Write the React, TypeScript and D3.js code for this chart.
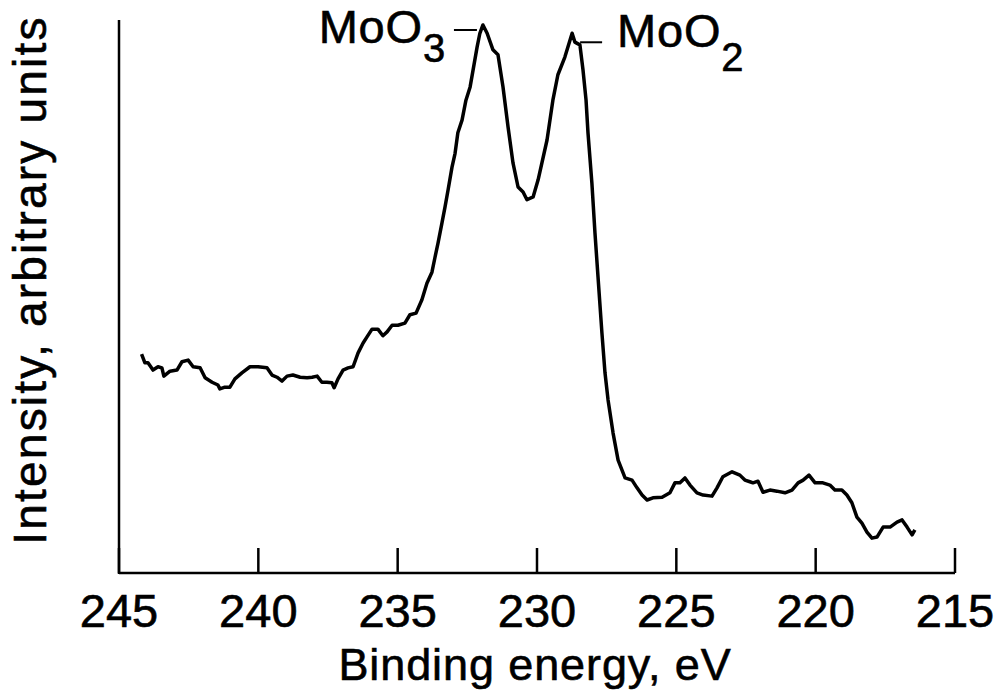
import React from 'react';
import * as d3 from 'd3';

// XPS Mo 3d spectrum (binding energy in eV, intensity in arbitrary units)
const energies = [
  244.19, 244.07, 243.96, 243.78, 243.6, 243.46, 243.39, 243.17, 242.92, 242.74,
  242.52, 242.34, 242.09, 241.91, 241.66, 241.45, 241.38, 241.2, 241.02, 240.84,
  240.59, 240.3, 240.01, 239.69, 239.51, 239.33, 239.15, 238.97, 238.76, 238.5,
  238.25, 238.07, 237.89, 237.72, 237.54, 237.36, 237.28, 237.14, 236.96, 236.78,
  236.6, 236.42, 236.24, 236.1, 235.92, 235.71, 235.53, 235.38, 235.2, 234.99,
  234.74, 234.56, 234.34, 234.13, 233.95, 233.77, 233.66, 233.55, 233.41, 233.3,
  233.19, 233.05, 232.94, 232.84, 232.69, 232.55, 232.4, 232.15, 232.05, 231.94,
  231.79, 231.58, 231.4, 231.22, 231.04, 230.86, 230.68, 230.5, 230.36, 230.14,
  229.96, 229.64, 229.43, 229.25, 229.0, 228.74, 228.64, 228.46, 228.35, 228.24,
  228.17, 228.03, 227.92, 227.81, 227.67, 227.56, 227.45, 227.27, 227.09, 226.84,
  226.59, 226.41, 226.23, 226.05, 225.84, 225.51, 225.23, 225.05, 224.87, 224.69,
  224.51, 224.26, 224.04, 223.72, 223.54, 223.33, 223.0, 222.72, 222.54, 222.36,
  222.25, 222.07, 221.89, 221.64, 221.39, 221.1, 220.85, 220.63, 220.45, 220.24,
  220.02, 219.74, 219.49, 219.31, 219.06, 218.88, 218.7, 218.52, 218.34, 218.16,
  217.98, 217.8, 217.58, 217.33, 217.08, 216.9, 216.72, 216.54, 216.44,
];

const intensities = [
  39.6, 38.0, 38.0, 36.7, 37.3, 37.1, 35.6, 36.5, 36.7, 38.2,
  38.5, 37.3, 37.1, 35.3, 34.5, 34.0, 33.3, 33.6, 33.6, 35.1,
  36.2, 37.3, 37.3, 37.1, 35.8, 35.4, 34.7, 35.6, 35.8, 35.4,
  35.3, 35.4, 35.6, 34.5, 34.5, 34.4, 33.5, 35.1, 36.7, 37.1,
  37.3, 39.8, 41.6, 42.7, 44.1, 44.1, 42.9, 43.6, 44.8, 44.8,
  45.2, 46.7, 47.0, 49.4, 52.4, 54.4, 57.1, 59.7, 63.3, 66.2,
  69.3, 73.4, 75.9, 79.6, 81.9, 85.5, 87.9, 95.1, 97.6, 99.1,
  97.6, 94.6, 93.7, 87.9, 80.7, 74.1, 69.8, 68.9, 67.5, 68.0,
  71.1, 78.3, 85.5, 90.1, 93.3, 97.6, 96.0, 95.5, 91.0, 85.5,
  79.6, 70.5, 61.5, 53.5, 43.4, 36.2, 31.3, 25.3, 20.4, 17.2,
  16.8, 15.4, 14.1, 13.2, 13.6, 13.7, 14.5, 16.3, 16.3, 17.2,
  15.9, 14.5, 14.1, 13.9, 15.4, 17.4, 18.3, 17.7, 16.8, 16.5,
  16.3, 16.6, 14.6, 15.0, 14.8, 14.5, 15.0, 16.3, 16.8, 17.7,
  16.3, 16.3, 15.9, 15.0, 15.0, 14.1, 12.7, 10.1, 9.0, 7.4,
  6.3, 6.5, 8.3, 8.3, 9.2, 9.6, 8.3, 6.9, 7.8,
];

const xTicks = [245, 240, 235, 230, 225, 220, 215];

// peak labels: main text, subscript, peak energy, which side the label sits
const peakNames = ['MoO', 'MoO'];
const peakSubs = ['3', '2'];
const peakEnergies = [231.94, 228.74];
const peakSides = ['left', 'right'];

const FONT = '"Liberation Sans", Arial, Helvetica, sans-serif';

const App: React.FC = () => {
  const width = 1006;
  const height = 698;

  const x = d3.scaleLinear().domain([245, 215]).range([119, 955]);
  const y = d3.scaleLinear().domain([0, 100]).range([573, 20]);

  const points = energies.map((e, i) => ({ e, v: intensities[i] }));
  const line = d3.line<{ e: number; v: number }>()
    .x(d => x(d.e))
    .y(d => y(d.v));

  const y0 = y(0);
  // slight outline to mimic the heavier scanned type
  const ink = { stroke: '#000', strokeWidth: 0.6 };

  return (
    <svg
      width={width}
      height={height}
      style={{ position: 'absolute', left: 0, top: 0, background: '#fff' }}
      fontFamily={FONT}
    >
      {/* axes */}
      <line x1={x(245)} x2={x(215)} y1={y0} y2={y0} stroke="#000" strokeWidth={2.5} />
      <line x1={x(245)} x2={x(245)} y1={y0 + 1} y2={y(100)} stroke="#000" strokeWidth={2.5} />
      {xTicks.map(t => (
        <g key={t}>
          <line x1={x(t)} x2={x(t)} y1={y0} y2={y0 - 25} stroke="#000" strokeWidth={2.5} />
          <text x={x(t)} y={y0 + 54} textAnchor="middle" fontSize={47} {...ink}>{t}</text>
        </g>
      ))}

      <text x={535} y={680} textAnchor="middle" fontSize={45} letterSpacing={0.9} {...ink}>
        Binding energy, eV
      </text>
      <text
        transform={`translate(46,280) rotate(-90)`}
        textAnchor="middle"
        fontSize={46}
        letterSpacing={2.2}
        {...ink}
      >
        Intensity, arbitrary units
      </text>

      {/* spectrum */}
      <path d={line(points) || ''} fill="none" stroke="#000" strokeWidth={3.5} strokeLinejoin="round" />

      {/* peak labels */}
      {peakNames.map((name, i) => {
        const px = x(peakEnergies[i]);
        const idx = energies.indexOf(peakEnergies[i]);
        const py = y(intensities[idx]);
        if (peakSides[i] === 'left') {
          const ly = py + 5;
          return (
            <g key={i}>
              <line x1={px - 29} x2={px - 6} y1={ly} y2={ly} stroke="#000" strokeWidth={2} />
              <text x={px - 37} y={ly + 13} textAnchor="end" fontSize={47} letterSpacing={0.8} {...ink}>
                {name}
                <tspan fontSize={40} dy={19}>{peakSubs[i]}</tspan>
              </text>
            </g>
          );
        }
        const ly = py + 9;
        return (
          <g key={i}>
            <line x1={px + 8} x2={px + 30} y1={ly} y2={ly} stroke="#000" strokeWidth={2} />
            <text x={px + 45} y={ly + 5} textAnchor="start" fontSize={47} letterSpacing={0.8} {...ink}>
              {name}
              <tspan fontSize={40} dy={24}>{peakSubs[i]}</tspan>
            </text>
          </g>
        );
      })}
    </svg>
  );
};

export default App;
